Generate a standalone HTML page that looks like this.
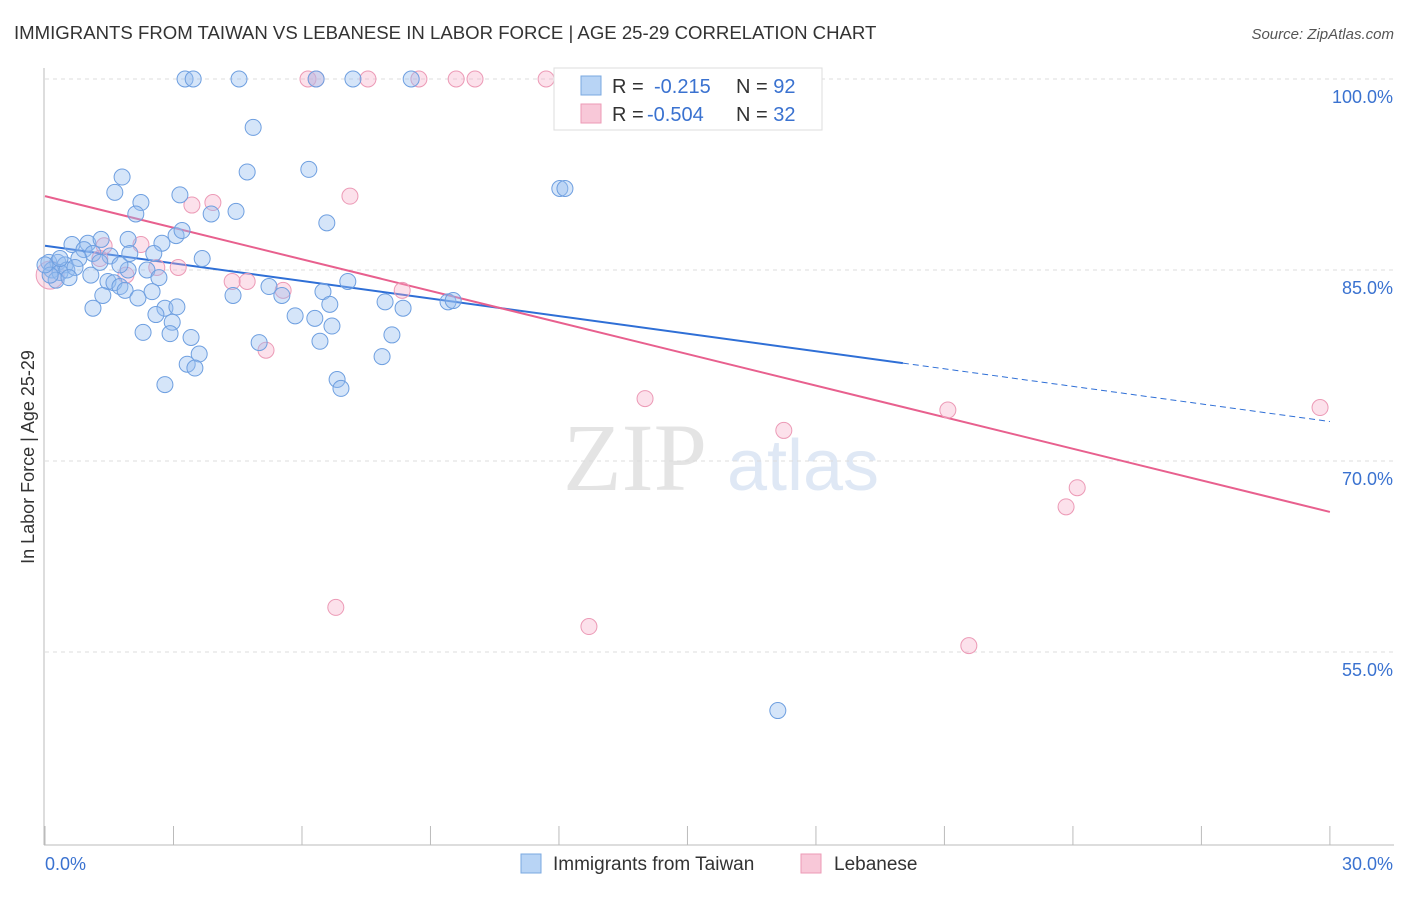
<!DOCTYPE html>
<html><head><meta charset="utf-8"><style>
body{margin:0;background:#fff;font-family:"Liberation Sans",sans-serif;}
</style></head><body>
<svg id="c" width="1406" height="892" xmlns="http://www.w3.org/2000/svg">
<text x="14" y="39" font-size="18.6" fill="#333">IMMIGRANTS FROM TAIWAN VS LEBANESE IN LABOR FORCE | AGE 25-29 CORRELATION CHART</text>
<text x="1394" y="39" font-size="15" fill="#555" font-style="italic" text-anchor="end">Source: ZipAtlas.com</text>
<text transform="translate(34,457) rotate(-90)" font-size="18" fill="#333" text-anchor="middle">In Labor Force | Age 25-29</text>
<g><text x="635" y="490" font-size="96" fill="#e4e4e4" font-family="Liberation Serif,serif" text-anchor="middle">ZIP</text><text x="803" y="490" font-size="72" fill="#dfe8f5" text-anchor="middle">atlas</text></g>
<g id="grid"></g><g id="axes"></g><g id="lines"></g><g id="pts"></g>
<g>
<rect x="554" y="68" width="268" height="62" fill="#fff" stroke="#ddd"/>
<rect x="581" y="76" width="20" height="19" fill="#b8d4f5" stroke="#7aa8e0"/>
<rect x="581" y="104" width="20" height="19" fill="#f8c8d8" stroke="#ec9ab6"/>
<text x="612" y="93" font-size="20" fill="#333">R = <tspan x="654" fill="#3a72d0">-0.215</tspan><tspan x="736">N = </tspan><tspan fill="#3a72d0">92</tspan></text>
<text x="612" y="121" font-size="20" fill="#333">R = <tspan x="647" fill="#3a72d0">-0.504</tspan><tspan x="736">N = </tspan><tspan fill="#3a72d0">32</tspan></text>
</g>
<g>
<rect x="521" y="854" width="20" height="19" fill="#b8d4f5" stroke="#7aa8e0"/>
<text x="553" y="870" font-size="19" fill="#333">Immigrants from Taiwan</text>
<rect x="801" y="854" width="20" height="19" fill="#f8c8d8" stroke="#ec9ab6"/>
<text x="834" y="870" font-size="19" fill="#333">Lebanese</text>
</g>
</svg>
<script>
const yTicks=[100,85,70,55];
const yTickLabels=["100.0%","85.0%","70.0%","55.0%"];
const xTickLabels=["0.0%","30.0%"];
const blueX=[3.27,3.46,4.53,6.33,7.19,8.55,4.86,4.72,6.16,12.02,12.14,1.80,1.63,2.24,3.15,2.12,3.88,4.46,6.58,3.06,3.20,2.73,0.63,1.00,1.31,1.94,0.91,1.12,1.52,0.09,0.30,0.47,0.79,1.98,2.54,3.67,0.16,0.35,0.51,0.70,1.07,1.94,2.38,2.66,0.26,0.56,1.47,1.61,1.75,1.87,1.35,2.17,2.50,1.12,4.39,5.23,5.53,6.49,7.07,6.65,7.94,8.36,9.41,9.53,2.80,3.08,2.59,2.97,5.84,6.30,6.70,2.29,2.92,3.41,5.00,6.42,8.10,3.60,3.32,3.50,7.87,2.80,6.82,6.91,17.11,0.12,1.75,0.0,0.35,1.28];
const blueY=[100,100,100,100,100,100,96.2,92.7,92.9,91.4,91.4,92.3,91.1,90.3,90.9,89.4,89.4,89.6,88.7,87.7,88.1,87.1,87.0,87.1,87.4,87.4,86.6,86.3,86.1,85.6,85.6,85.4,85.9,86.3,86.3,85.9,85.0,84.8,85.0,85.2,84.6,85.0,85.0,84.4,84.2,84.4,84.1,84.0,83.7,83.4,83.0,82.8,83.3,82.0,83.0,83.7,83.0,83.3,84.1,82.3,82.5,82.0,82.5,82.6,82.0,82.1,81.5,80.9,81.4,81.2,80.6,80.1,80.0,79.7,79.3,79.4,79.9,78.4,77.6,77.3,78.2,76.0,76.4,75.7,50.4,84.6,85.4,85.4,85.9,85.6];
const pinkX=[6.14,6.33,7.54,8.73,9.60,10.04,11.70,7.12,3.43,3.92,2.24,1.38,3.11,1.89,2.61,4.37,4.72,5.56,8.34,5.16,14.01,17.25,21.08,29.77,24.10,23.84,6.79,12.70,21.57,0.12,1.28];
const pinkY=[100,100,100,100,100,100,100,90.8,90.1,90.3,87.0,86.9,85.2,84.6,85.2,84.1,84.1,83.4,83.4,78.7,74.9,72.4,74.0,74.2,67.9,66.4,58.5,57.0,55.5,84.6,85.9];
const blueTrend=[86.9,73.1];const blueSolidEnd=20.03;
const pinkTrend=[90.8,66.0];
const NS="http://www.w3.org/2000/svg";
const X=v=>45+v*42.83, Y=v=>79+(100-v)*12.733;
function mk(p,t,a){const e=document.createElementNS(NS,t);for(const k in a)e.setAttribute(k,a[k]);document.getElementById(p).appendChild(e);return e;}
yTicks.forEach((t,i)=>{
 const l=mk('grid','line',{x1:45,x2:1394,y1:Y(t),y2:Y(t),stroke:'#ddd','stroke-dasharray':'4,4'});
 
 
 const tx=mk('grid','text',{x:1393,y:Y(t)+24,'font-size':18,fill:'#3a72d0','text-anchor':'end'});tx.textContent=yTickLabels[i];
 
 
});
const ax=mk('axes','line',{x1:44,x2:44,y1:68,y2:845,stroke:'#bbb'});


const bx=mk('axes','line',{x1:44,x2:1394,y1:845,y2:845,stroke:'#bbb'});


for(let i=0;i<=10;i++){const t=mk('axes','line',{x1:X(i*3),x2:X(i*3),y1:826,y2:845,stroke:'#bbb'});
 
 }
[[0,'start',45],[30,'end',1393]].forEach((d,i)=>{const t=mk('axes','text',{x:d[2],y:870,'font-size':18,fill:'#3a72d0','text-anchor':d[1]});t.textContent=xTickLabels[i];
 
 });
function pt(v){return blueTrend[0]+(blueTrend[1]-blueTrend[0])*v/30;}
let l1=mk('lines','line',{x1:X(0),y1:Y(blueTrend[0]),x2:X(blueSolidEnd),y2:Y(pt(blueSolidEnd)),stroke:'#2f6fd6','stroke-width':2});


let l2=mk('lines','line',{x1:X(blueSolidEnd),y1:Y(pt(blueSolidEnd)),x2:X(30),y2:Y(blueTrend[1]),stroke:'#2f6fd6','stroke-width':1,'stroke-dasharray':'6,4'});


let l3=mk('lines','line',{x1:X(0),y1:Y(pinkTrend[0]),x2:X(30),y2:Y(pinkTrend[1]),stroke:'#e8608e','stroke-width':2});


pinkX.forEach((x,i)=>{const c=mk('pts','circle',{cx:X(x),cy:Y(pinkY[i]),r:(i==29?14:8),fill:'rgba(245,170,198,0.35)',stroke:'#ec9ab6','stroke-width':1});
 
 });
blueX.forEach((x,i)=>{const c=mk('pts','circle',{cx:X(x),cy:Y(blueY[i]),r:8,fill:'rgba(150,190,240,0.4)',stroke:'#6e9fe0','stroke-width':1});
 
 });
</script>
</body></html>
